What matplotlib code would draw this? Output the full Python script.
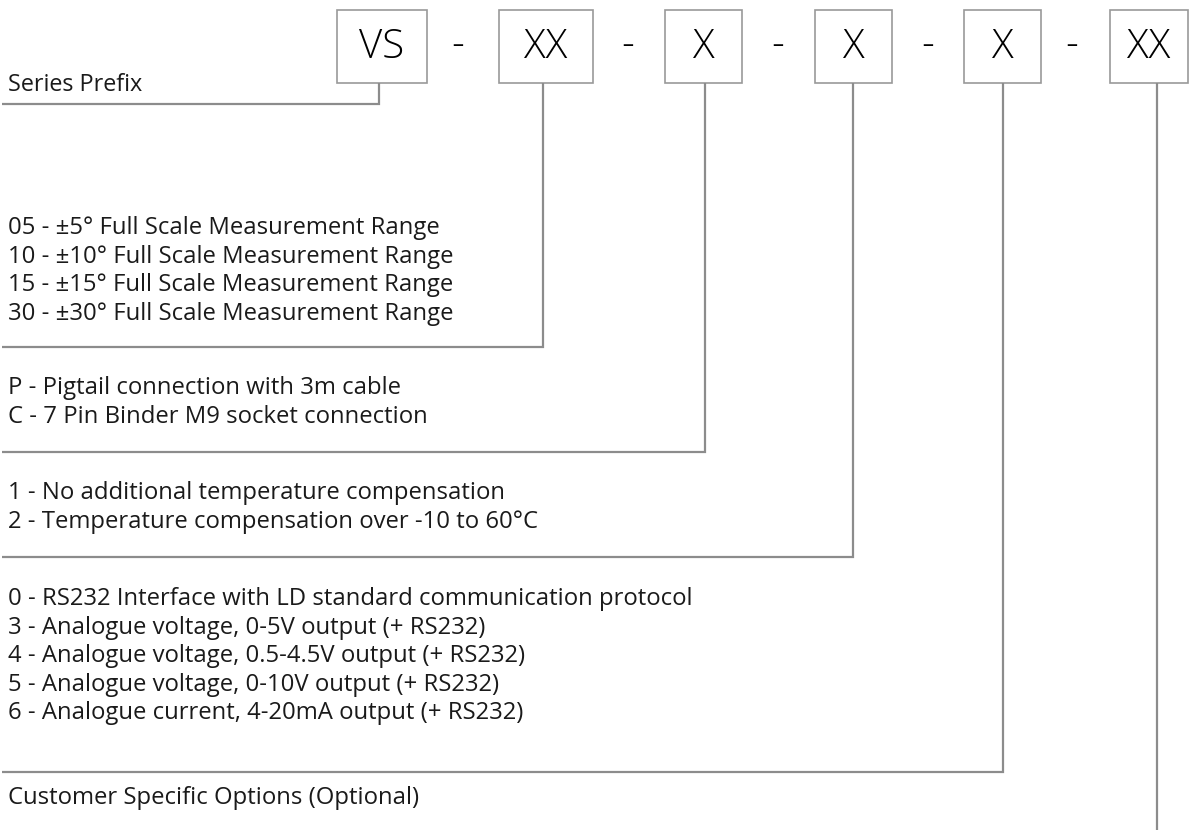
import matplotlib.pyplot as plt
from matplotlib.patches import Rectangle

# code segments and their descriptions
codes = ['VS', 'XX', 'X', 'X', 'X', 'XX']
descriptions = [
    ['Series Prefix'],
    ['05 - ±5° Full Scale Measurement Range',
     '10 - ±10° Full Scale Measurement Range',
     '15 - ±15° Full Scale Measurement Range',
     '30 - ±30° Full Scale Measurement Range'],
    ['P - Pigtail connection with 3m cable',
     'C - 7 Pin Binder M9 socket connection'],
    ['1 - No additional temperature compensation',
     '2 - Temperature compensation over -10 to 60°C'],
    ['0 - RS232 Interface with LD standard communication protocol',
     '3 - Analogue voltage, 0-5V output (+ RS232)',
     '4 - Analogue voltage, 0.5-4.5V output (+ RS232)',
     '5 - Analogue voltage, 0-10V output (+ RS232)',
     '6 - Analogue current, 4-20mA output (+ RS232)'],
    ['Customer Specific Options (Optional)'],
]

# layout (pixels)
W, H = 1198, 830
box_left = [337, 499, 665, 815, 964, 1110]
box_right = [427, 593, 742, 892, 1041, 1188]
box_top, box_bot = 10, 83
dash_x = [458, 628, 778, 928, 1072]
text_y0 = [85, 228, 388, 493, 599, 798]
line_y = [104, 347, 452, 557, 772, None]
line_x = [379, 543, 705, 853, 1003, 1157]
step = 28.6

gray = '#8c8c8c'
txt = '#1a1a1a'
plt.rcParams['font.family'] = ['Open Sans', 'DejaVu Sans']

fig = plt.figure(figsize=(W / 100, H / 100), dpi=100)
ax = fig.add_axes([0, 0, 1, 1])
ax.set_xlim(0, W)
ax.set_ylim(H, 0)
ax.axis('off')

for i, c in enumerate(codes):
    l, r = box_left[i], box_right[i]
    ax.add_patch(Rectangle((l, box_top), r - l, box_bot - box_top,
                           fill=False, edgecolor='#999999', lw=1.2))
    ax.text((l + r) / 2, (box_top + box_bot) / 2 + 1, c, ha='center',
            va='center', fontsize=29, fontweight='light', color='black')

for x in dash_x:
    ax.text(x, 45, '-', ha='center', va='center', fontsize=29,
            fontweight='light', color='black')

for i, lines in enumerate(descriptions):
    for j, s in enumerate(lines):
        ax.text(8, text_y0[i] + j * step, s, ha='left', va='center',
                fontsize=17.2 if i else 16.8, color=txt)
    x = line_x[i]
    if line_y[i] is None:
        ax.plot([x, x], [box_bot, H], color=gray, lw=1.6,
                solid_capstyle='butt')
    else:
        ax.plot([x, x, 2], [box_bot, line_y[i], line_y[i]], color=gray,
                lw=1.6, solid_capstyle='butt', solid_joinstyle='miter')

fig.savefig('out.png', dpi=100)
